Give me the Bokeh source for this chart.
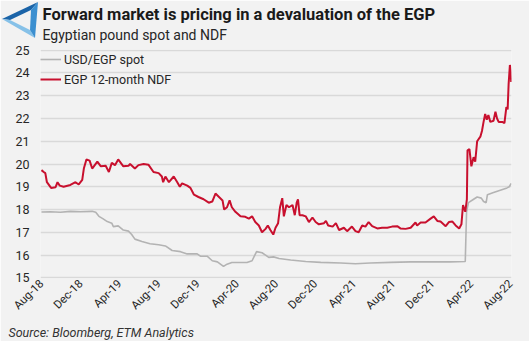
import pandas as pd
from bokeh.plotting import figure
from bokeh.layouts import column
from bokeh.models import (Range1d, FixedTicker, DatetimeTickFormatter, Legend, LegendItem,
                          Title, Div)
from bokeh.embed import file_html
from bokeh.resources import INLINE
from math import pi

# ---------------- data ----------------
ndf_dates = [
    "2018-08-01", "2018-08-08", "2018-08-13", "2018-08-18", "2018-08-31", "2018-09-14",
    "2018-09-20", "2018-09-27", "2018-10-09", "2018-10-30", "2018-11-15", "2018-11-25",
    "2018-12-06", "2018-12-11", "2018-12-19", "2018-12-29", "2019-01-06", "2019-01-22",
    "2019-02-02", "2019-02-17", "2019-02-27", "2019-03-08", "2019-03-18", "2019-03-28",
    "2019-04-13", "2019-04-29", "2019-05-04", "2019-05-19", "2019-05-30", "2019-06-15",
    "2019-06-30", "2019-07-16", "2019-08-01", "2019-08-11", "2019-08-15", "2019-08-22",
    "2019-09-02", "2019-09-17", "2019-09-28", "2019-10-06", "2019-10-13", "2019-10-29",
    "2019-11-08", "2019-11-19", "2019-12-03", "2019-12-19", "2020-01-04", "2020-01-15",
    "2020-01-25", "2020-02-05", "2020-02-16", "2020-02-21", "2020-03-01", "2020-03-09",
    "2020-03-16", "2020-03-27", "2020-04-12", "2020-04-27", "2020-05-08", "2020-05-18",
    "2020-05-28", "2020-06-08", "2020-06-18", "2020-06-29", "2020-07-06", "2020-07-14",
    "2020-07-23", "2020-07-30", "2020-08-07", "2020-08-13", "2020-08-20", "2020-08-25",
    "2020-09-02", "2020-09-10", "2020-09-21", "2020-09-28", "2020-10-04", "2020-10-08",
    "2020-10-13", "2020-10-22", "2020-11-01", "2020-11-11", "2020-11-22", "2020-12-02",
    "2020-12-12", "2020-12-28", "2021-01-03", "2021-01-10", "2021-01-24", "2021-02-03",
    "2021-02-13", "2021-02-28", "2021-03-10", "2021-03-25", "2021-04-05", "2021-04-15",
    "2021-04-26", "2021-05-06", "2021-05-16", "2021-05-27", "2021-06-12", "2021-06-27",
    "2021-07-13", "2021-07-28", "2021-08-13", "2021-08-23", "2021-09-08", "2021-09-24",
    "2021-10-09", "2021-10-14", "2021-10-25", "2021-11-09", "2021-11-25", "2021-12-05",
    "2021-12-16", "2021-12-26", "2022-01-11", "2022-01-21", "2022-02-01", "2022-02-11",
    "2022-02-22", "2022-03-01", "2022-03-06", "2022-03-13", "2022-03-18", "2022-03-20",
    "2022-03-26", "2022-04-01", "2022-04-08", "2022-04-13", "2022-04-19", "2022-04-29",
    "2022-05-04", "2022-05-09", "2022-05-14", "2022-05-19", "2022-05-24", "2022-05-30",
    "2022-06-09", "2022-06-15", "2022-06-20", "2022-06-25", "2022-07-06", "2022-07-13",
    "2022-07-19", "2022-07-23", "2022-07-26", "2022-07-30", "2022-08-01", "2022-08-03",
]
ndf_values = [
    19.73, 19.65, 19.60, 19.20, 18.95, 18.98,
    19.20, 19.05, 19.00, 19.08, 19.20, 19.10,
    19.30, 19.80, 20.20, 20.15, 19.80, 20.10,
    19.90, 19.92, 19.65, 20.05, 19.95, 20.20,
    19.90, 19.92, 20.00, 19.80, 19.95, 20.00,
    19.97, 19.65, 19.60, 19.45, 19.20, 19.45,
    19.20, 19.45, 19.20, 19.00, 19.15, 19.05,
    18.95, 18.65, 18.55, 18.45, 18.30, 18.35,
    18.70, 18.55, 18.40, 18.00, 18.10, 18.40,
    18.10, 17.90, 17.70, 17.68, 17.60, 17.70,
    17.45, 17.30, 17.00, 17.15, 17.30, 17.10,
    16.90, 17.20, 17.40, 18.10, 18.50, 17.70,
    18.20, 18.10, 18.20, 17.75, 18.30, 18.45,
    17.75, 17.75, 17.70, 17.45, 17.65, 17.45,
    17.35, 17.40, 17.50, 17.30, 17.25, 17.40,
    17.10, 17.20, 17.05, 17.25, 17.05, 17.00,
    17.30, 17.25, 17.45, 17.27, 17.17, 17.20,
    17.20, 17.25, 17.27, 17.17, 17.15, 17.20,
    17.43, 17.30, 17.43, 17.43, 17.60, 17.70,
    17.50, 17.47, 17.27, 17.45, 17.47, 17.30,
    17.17, 17.35, 18.20, 17.90, 18.45, 20.60,
    20.65, 19.90, 20.30, 20.10, 21.00, 21.20,
    21.45, 21.85, 22.20, 21.95, 22.15, 21.85,
    21.90, 22.30, 22.00, 21.85, 21.85, 21.80,
    22.50, 22.40, 23.50, 24.35, 24.10, 23.60,
]

spot_dates = [
    "2018-08-01", "2018-08-29", "2018-09-29", "2018-10-30", "2018-11-30", "2019-01-06",
    "2019-01-17", "2019-01-27", "2019-02-08", "2019-02-22", "2019-03-08", "2019-03-13",
    "2019-03-28", "2019-04-13", "2019-04-29", "2019-05-09", "2019-05-19", "2019-06-10",
    "2019-07-05", "2019-08-01", "2019-08-22", "2019-09-12", "2019-10-08", "2019-10-29",
    "2019-11-29", "2019-12-09", "2019-12-30", "2020-01-15", "2020-01-31", "2020-02-19",
    "2020-03-01", "2020-03-16", "2020-04-12", "2020-05-02", "2020-05-18", "2020-05-25",
    "2020-06-01", "2020-06-18", "2020-06-29", "2020-07-09", "2020-07-24", "2020-08-10",
    "2020-09-15", "2020-11-01", "2020-12-18", "2021-02-18", "2021-04-05", "2021-05-21",
    "2021-07-23", "2021-09-24", "2021-11-25", "2022-01-26", "2022-03-13", "2022-03-17",
    "2022-03-23", "2022-04-08", "2022-04-19", "2022-05-02", "2022-05-09", "2022-05-17",
    "2022-05-21", "2022-06-09", "2022-06-30", "2022-07-21", "2022-07-28", "2022-08-03",
]
spot_values = [
    17.89, 17.90, 17.88, 17.92, 17.90, 17.92,
    17.88, 17.70, 17.60, 17.47, 17.40, 17.25,
    17.28, 17.10, 17.05, 16.90, 16.70, 16.60,
    16.50, 16.45, 16.40, 16.20, 16.15, 16.05,
    16.05, 15.95, 15.95, 15.75, 15.70, 15.50,
    15.60, 15.67, 15.67, 15.67, 15.75, 15.95,
    16.15, 16.10, 16.00, 15.90, 15.92, 15.85,
    15.78, 15.72, 15.68, 15.65, 15.62, 15.65,
    15.68, 15.70, 15.70, 15.70, 15.72, 17.90,
    18.30, 18.45, 18.55, 18.50, 18.35, 18.30,
    18.65, 18.75, 18.85, 18.95, 19.00, 19.15,
]

tick_dates = ["2018-08-01", "2018-12-01", "2019-04-01", "2019-08-01", "2019-12-01",
              "2020-04-01", "2020-08-01", "2020-12-01", "2021-04-01", "2021-08-01",
              "2021-12-01", "2022-04-01", "2022-08-01"]
y_ticks = [15, 16, 17, 18, 19, 20, 21, 22, 23, 24, 25]

series_names = ["USD/EGP spot", "EGP 12-month NDF"]
title_text = "Forward market is pricing in a devaluation of the EGP"
subtitle_text = "Egyptian pound spot and NDF"
source_text = "Source: Bloomberg, ETM Analytics"

# ---------------- styles ----------------
BG = "#f2f2f2"
RED = "#c8102e"
GREY = "#b3b3b3"
GRID = "#d9d9d9"
FONT = "Roboto"
W, H = 529, 341
FL, FR, FT, FB = 40, 511, 49, 282   # frame edges in canvas px

ndf_x = pd.to_datetime(ndf_dates)
spot_x = pd.to_datetime(spot_dates)
ticks_ms = [pd.Timestamp(d).value / 1e6 for d in tick_dates]

p = figure(width=W, height=H, x_axis_type="datetime",
           x_range=Range1d(pd.Timestamp("2018-07-29"), pd.Timestamp("2022-08-04")),
           y_range=Range1d(14.97, 25.03),
           output_backend="svg", toolbar_location=None,
           min_border_left=FL, min_border_right=W - FR,
           min_border_top=FT, min_border_bottom=H - FB,
           background_fill_color=BG, border_fill_color=BG, outline_line_color=None)

r_spot = p.line(spot_x, spot_values, color=GREY, line_width=1.6)
r_ndf = p.line(ndf_x, ndf_values, color=RED, line_width=2)

p.xaxis.ticker = FixedTicker(ticks=ticks_ms)
fmt = "%b-%y"
p.xaxis.formatter = DatetimeTickFormatter(milliseconds=fmt, seconds=fmt, minsec=fmt, minutes=fmt,
                                          hourmin=fmt, hours=fmt, days=fmt, months=fmt, years=fmt)
p.xaxis.major_label_orientation = pi / 4
p.yaxis.ticker = FixedTicker(ticks=y_ticks)
for ax in (p.xaxis[0], p.yaxis[0]):
    ax.axis_line_color = None
    ax.major_tick_line_color = None
    ax.minor_tick_line_color = None
    ax.major_tick_in = 0
    ax.major_tick_out = 0
    ax.major_label_text_font = FONT
    ax.major_label_text_color = "#262626"
p.xaxis.major_label_text_font_size = "11.5px"
p.yaxis.major_label_text_font_size = "12.5px"
p.yaxis.major_label_standoff = 11
p.xaxis.major_label_standoff = 3

p.xgrid.grid_line_color = None
p.ygrid.grid_line_color = GRID
p.ygrid.grid_line_width = 1.5

legend = Legend(items=[LegendItem(label=series_names[0], renderers=[r_spot]),
                       LegendItem(label=series_names[1], renderers=[r_ndf])],
                location=(0, (FB - FT) - 44), padding=0, margin=0, spacing=0,
                glyph_width=21, glyph_height=20, label_height=20, label_standoff=3,
                label_text_font=FONT, label_text_font_size="12.5px",
                label_text_color="#262626",
                background_fill_alpha=0, border_line_color=None)
p.add_layout(legend)

# titles (first added "above" sits nearest to the frame)
p.add_layout(Title(text=subtitle_text, align="left", offset=2, standoff=12.5,
                   text_font=FONT, text_font_size="14px", text_font_style="normal",
                   text_color="#262626"), "above")
p.add_layout(Title(text=title_text, align="left", offset=2, standoff=-10,
                   text_font=FONT, text_font_size="16.5px", text_font_style="bold",
                   text_color="#1a1a1a"), "above")
p.add_layout(Title(text=source_text, align="left", offset=-32, standoff=4,
                   text_font=FONT, text_font_size="12.5px", text_font_style="italic",
                   text_color="#333333"), "below")

# logo, overlaid at the top-left corner of the page
logo_svg = (
    '<svg xmlns="http://www.w3.org/2000/svg" width="40" height="40" viewBox="0 0 40 40" '
    'style="display:block;overflow:visible">'
    '<polygon points="38,2 2,19 10,20 31,10" fill="#1b64a8"/>'
    '<polygon points="2,19 35,38 30,30 10,20" fill="#86c1e8"/>'
    '<polygon points="38,2 35,38 30,30 31,10" fill="#3b8fd0"/>'
    '</svg>'
)
logo = Div(text=logo_svg, width=40, height=40,
           styles={"position": "absolute", "left": "0px", "top": "0px", "z-index": "10",
                   "overflow": "visible", "padding": "0px", "margin": "0px"})

layout = column(p, logo, spacing=0)
open("out.html", "w").write(file_html(layout, INLINE))
